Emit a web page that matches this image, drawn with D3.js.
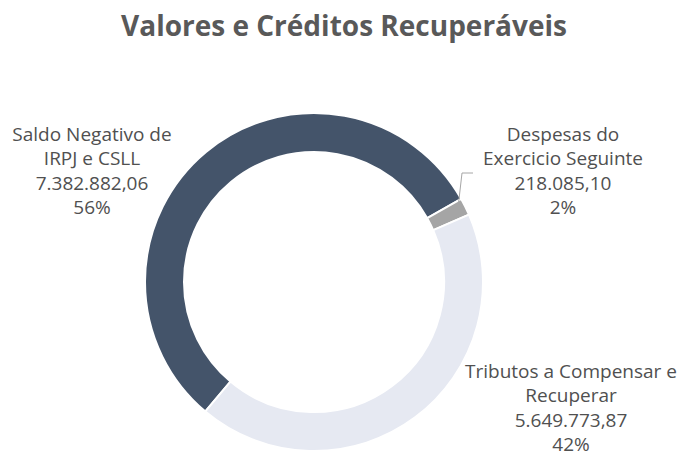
<!DOCTYPE html>
<html>
<head>
<meta charset="utf-8">
<script src="https://cdn.jsdelivr.net/npm/d3@7"></script>
<style>
  body { margin: 0; background: #fff; }
  svg { display: block; }
</style>
</head>
<body>
<script>
const categories = ["Saldo Negativo de IRPJ e CSLL", "Despesas do Exercicio Seguinte", "Tributos a Compensar e Recuperar"];
const values = [7382882.06, 218085.10, 5649773.87];
const valueLabels = ["7.382.882,06", "218.085,10", "5.649.773,87"];
const percentLabels = ["56%", "2%", "42%"];
const labelLines = [["Saldo Negativo de", "IRPJ e CSLL"], ["Despesas do", "Exercicio Seguinte"], ["Tributos a Compensar e", "Recuperar"]];
const colors = ["#44546A", "#A5A5A5", "#E6E9F2"];

const width = 679, height = 457;
const cx = 314, cy = 282;
const outer = 169, inner = 130;
const font = "Open Sans, sans-serif";

const data = categories.map((c, i) => ({ name: c, value: values[i], i }));

const svg = d3.select("body").append("svg")
    .attr("width", width)
    .attr("height", height);

svg.append("text")
    .attr("x", 344)
    .attr("y", 36)
    .attr("text-anchor", "middle")
    .attr("font-family", font)
    .attr("font-weight", "bold")
    .attr("font-size", 28)
    .attr("fill", "#595959")
    .text("Valores e Créditos Recuperáveis");

const pie = d3.pie()
    .sort(null)
    .value(d => d.value)
    .startAngle(220 * Math.PI / 180)
    .endAngle(580 * Math.PI / 180);

const arc = d3.arc().innerRadius(inner).outerRadius(outer);

const g = svg.append("g").attr("transform", `translate(${cx},${cy})`);

g.selectAll("path")
    .data(pie(data))
    .join("path")
    .attr("d", arc)
    .attr("fill", d => colors[d.data.i])
    .attr("stroke", "#fff")
    .attr("stroke-width", 2);

// label positions: centre of text block, first baseline
const labelPos = [[92, 141], [563, 141], [571, 378]];
const lineH = 24.3;

data.forEach((d, i) => {
  const lines = labelLines[i].concat([valueLabels[i], percentLabels[i]]);
  svg.append("text")
      .attr("text-anchor", "middle")
      .attr("font-family", font)
      .attr("font-size", 19)
      .attr("fill", "#505050")
    .selectAll("tspan")
    .data(lines)
    .join("tspan")
      .attr("x", labelPos[i][0])
      .attr("y", (l, j) => labelPos[i][1] + j * lineH)
      .text(l => l);
});

// leader line for the small slice
const small = pie(data)[1];
const mid = (small.startAngle + small.endAngle) / 2;
const p0 = [cx + Math.sin(mid) * (outer - 2), cy - Math.cos(mid) * (outer - 2)];
svg.append("path")
    .attr("d", d3.line()([[p0[0] - 5, p0[1] - 4], [462, 173], [473, 173]]))
    .attr("fill", "none")
    .attr("stroke", "#A6A6A6")
    .attr("stroke-width", 1);
</script>
</body>
</html>
